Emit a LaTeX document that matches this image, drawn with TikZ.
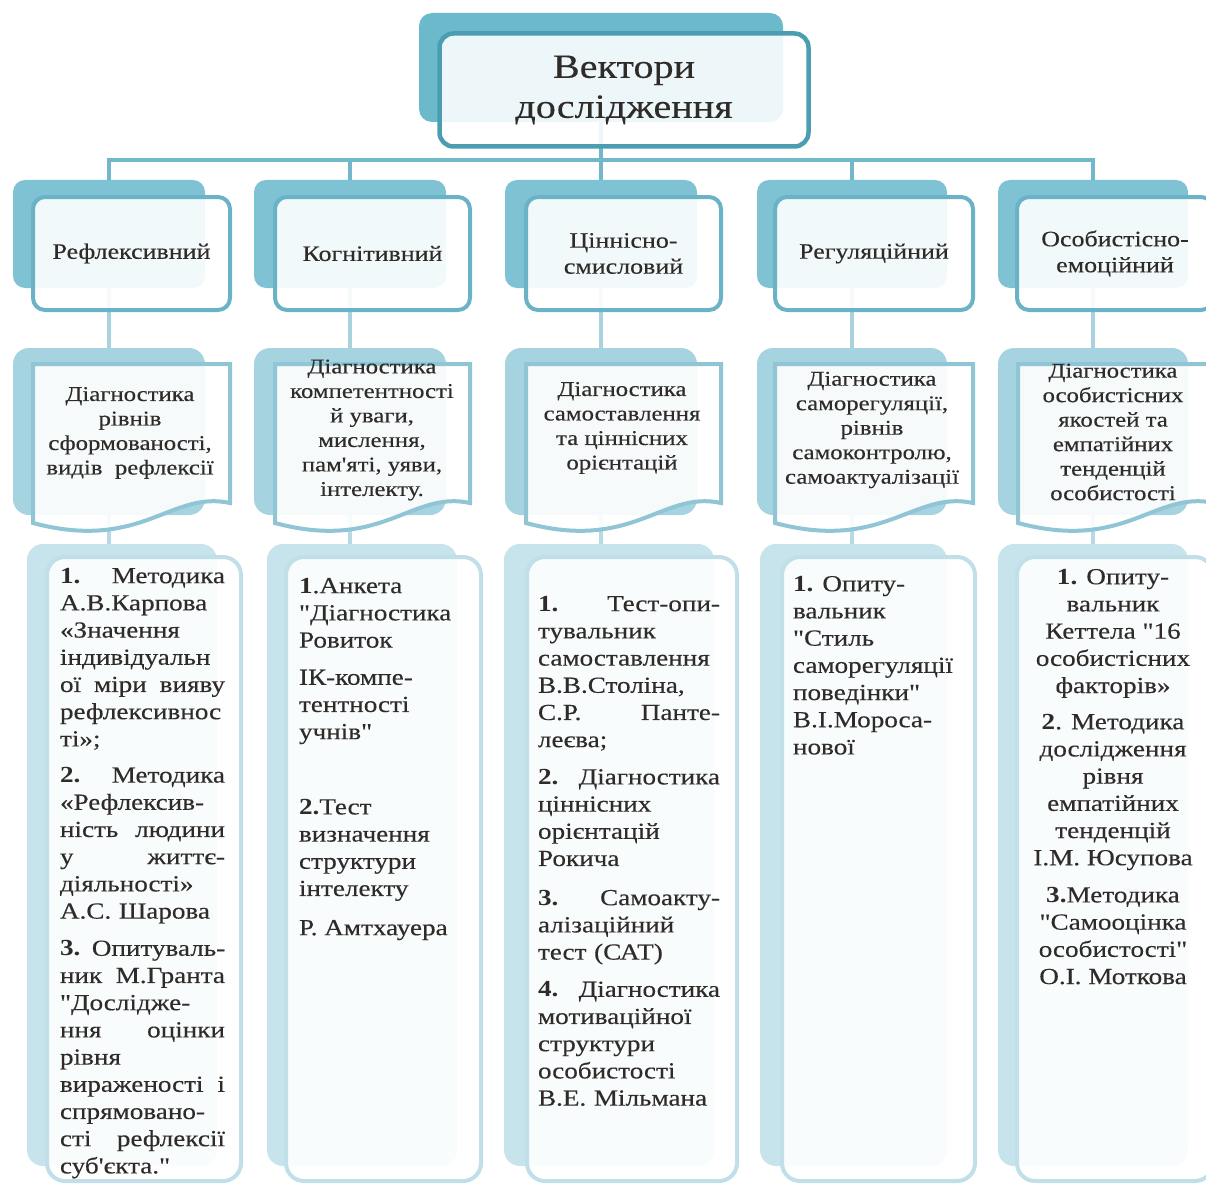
\documentclass[tikz,border=0pt]{standalone}
\usepackage{fontspec}
\setmainfont[FakeStretch=1.18, Ligatures=TeXOff, UprightFeatures={FakeBold=0.3}]{Liberation Serif}
\definecolor{txt}{HTML}{2F2B29}
\definecolor{cTopS}{HTML}{6CB9CC}
\definecolor{cTopB}{HTML}{4B9DB2}
\definecolor{cL2S}{HTML}{7FC2D3}
\definecolor{cL2B}{HTML}{6AB3C7}
\definecolor{cBus}{HTML}{72B7CA}
\definecolor{cL23}{HTML}{A7D2DE}
\definecolor{cL3S}{HTML}{A6D3E0}
\definecolor{cL3B}{HTML}{8FC5D4}
\definecolor{cL34}{HTML}{B6DBE5}
\definecolor{cL4S}{HTML}{C7E4EC}
\definecolor{cL4B}{HTML}{C0DFE8}
\newcommand{\ftitle}{\fontsize{34}{40}\selectfont}
\newcommand{\fsec}{\fontsize{22}{26}\selectfont}
\newcommand{\fdiag}{\fontsize{21}{24.5}\selectfont}
\newcommand{\fmeth}{\fontsize{23}{27.2}\selectfont}
\newcommand{\jl}[1]{\leavevmode\hbox to \linewidth{#1}}
\begin{document}
\begin{tikzpicture}[x=1pt,y=-1pt,
  every node/.style={inner sep=0pt, outer sep=0pt, text=txt},
  topshadow/.style={fill=cTopS, rounded corners=13pt, minimum width=364pt, minimum height=109pt},
  topfront/.style={draw=cTopB, line width=4.5pt, fill=white, fill opacity=0.88, text opacity=1, rounded corners=14pt, minimum width=369pt, minimum height=113pt, font=\ftitle, align=center},
  secshadow/.style={fill=cL2S, rounded corners=12pt, minimum height=108pt},
  secfront/.style={draw=cL2B, line width=4pt, fill=white, fill opacity=0.9, text opacity=1, rounded corners=12pt, minimum height=113pt, font=\fsec, align=center},
  diagshadow/.style={fill=cL3S, rounded corners=16pt, minimum height=167pt},
  diagfront/.style={draw=cL3B, line width=4pt, fill=white, fill opacity=0.9},
  diagtext/.style={font=\fdiag, align=center},
  methshadow/.style={fill=cL4S, rounded corners=16pt, minimum height=622pt},
  methfront/.style={draw=cL4B, line width=4pt, fill=white, fill opacity=0.9, rounded corners=18pt, minimum height=624pt},
  methtext/.style={font=\fmeth, anchor=north west, align=left},
  busline/.style={draw=cBus, line width=4pt},
  midline/.style={draw=cL23, line width=4pt},
  lowline/.style={draw=cL34, line width=4pt}
]
\clip (0,0) rectangle (1206,1185);

% ---------- shadows ----------
\node[topshadow] (topS) at (601,67.5) {};
\node[secshadow, minimum width=192pt] (s21) at (109,234) {};
\node[secshadow, minimum width=192pt] (s22) at (350,234) {};
\node[secshadow, minimum width=192pt] (s23) at (601,234) {};
\node[secshadow, minimum width=190pt] (s24) at (852,234) {};
\node[secshadow, minimum width=190pt] (s25) at (1093,234) {};
\node[diagshadow, minimum width=192pt] (s31) at (109,431.5) {};
\node[diagshadow, minimum width=192pt] (s32) at (350,431.5) {};
\node[diagshadow, minimum width=192pt] (s33) at (601,431.5) {};
\node[diagshadow, minimum width=190pt] (s34) at (852,431.5) {};
\node[diagshadow, minimum width=190pt] (s35) at (1093,431.5) {};
\node[methshadow, minimum width=190pt] (s41) at (122,855) {};
\node[methshadow, minimum width=190pt] (s42) at (362,855) {};
\node[methshadow, minimum width=210pt] (s43) at (609,855) {};
\node[methshadow, minimum width=187pt] (s44) at (853.5,855) {};
\node[methshadow, minimum width=190pt] (s45) at (1093,855) {};

% ---------- connectors ----------
\coordinate (bus) at (601,160);
\draw[busline] (topS.south) -- (bus);
\draw[busline] (bus) -| (s21.north);
\draw[busline] (bus) -| (s22.north);
\draw[busline] (bus) -- (s23.north);
\draw[busline] (bus) -| (s24.north);
\draw[busline] (bus) -| (s25.north);
\foreach \i in {1,...,5}{
  \draw[midline] (s2\i.south) -- (s3\i.north);
  \draw[lowline] (s3\i.south) -- (s3\i.south |- s4\i.north);
}

% ---------- front boxes ----------
\node[topfront] (topF) at (624,90) {Вектори\\дослідження};

\node[secfront, minimum width=197pt] (f21) at (131.5,253.5) {Рефлексивний};
\node[secfront, minimum width=195pt] (f22) at (372.5,253.5) {Когнітивний};
\node[secfront, minimum width=195pt] (f23) at (623.5,253.5) {Ціннісно-\\смисловий};
\node[secfront, minimum width=198pt] (f24) at (874,253.5) {Регуляційний};
\node[secfront, minimum width=196pt] (f25) at (1115,253.5) {Особистісно-\\емоційний};

\foreach \L/\R in {33/230, 275/470, 526/721, 775/973, 1018/1214}{
  \pgfmathsetmacro{\W}{\R-\L}
  \path[diagfront] (\L,364) -- (\R,364) -- (\R,503)
     .. controls ({\R-0.3*\W},490) and ({\L+0.55*\W},552) .. (\L,523) -- cycle;
}

\node[methfront, minimum width=194pt] (f41) at (144,869) {};
\node[methfront, minimum width=195pt] (f42) at (383.5,869) {};
\node[methfront, minimum width=210pt] (f43) at (632,869) {};
\node[methfront, minimum width=193pt] (f44) at (878.5,869) {};
\node[methfront, minimum width=196pt] (f45) at (1115,869) {};

% ---------- diagnostics texts ----------
\node[diagtext] (t31) at (130,433) {Діагностика\\рівнів\\сформованості,\\видів\ \ рефлексії};
\node[diagtext] (t32) at (372,430) {Діагностика\\компетентності\\й уваги,\\мислення,\\пам'яті, уяви,\\інтелекту.};
\node[diagtext] (t33) at (622,428) {Діагностика\\самоставлення\\та ціннісних\\орієнтацій};
\node[diagtext] (t34) at (872,430) {Діагностика\\саморегуляції,\\рівнів\\самоконтролю,\\самоактуалізації};
\node[diagtext] (t35) at (1113,432) {Діагностика\\особистісних\\якостей та\\емпатійних\\тенденцій\\особистості};

% ---------- methods texts ----------
\node[methtext, text width=165pt] (t41) at (60,568) {%
\jl{\textbf{1.}\hfill Методика}\\
А.В.Карпова\\
«Значення\\
індивідуальн\\
\jl{ої\hfill міри\hfill вияву}\\
рефлексивнос\\
ті»;\\[9pt]
\jl{\textbf{2.}\hfill Методика}\\
«Рефлексив-\\
\jl{ність\hfill людини}\\
\jl{у\hfill життє-}\\
діяльності»\\
А.С. Шарова\\[10pt]
\jl{\textbf{3.} Опитуваль-\hfill}\\
\jl{ник\hfill М.Гранта}\\
"Дослідже-\\
\jl{ння\hfill оцінки}\\
рівня\\
\jl{вираженості\hfill і}\\
спрямовано-\\
\jl{сті\hfill рефлексії}\\
суб'єкта."};

\node[methtext] (t42) at (299,578) {%
\textbf{1}.Анкета\\
"Діагностика\\
Ровиток\\[10pt]
ІК-компе-\\
тентності\\
учнів"\\[48pt]
\textbf{2.}Тест\\
визначення\\
структури\\
інтелекту\\[12pt]
Р. Амтхауера};

\node[methtext, text width=182pt] (t43) at (538,596) {%
\jl{\textbf{1.}\hfill Тест-опи-}\\
тувальник\\
самоставлення\\
В.В.Століна,\\
\jl{С.Р.\hfill Панте-}\\
леєва;\\[10pt]
\jl{\textbf{2.}\hfill Діагностика}\\
ціннісних\\
орієнтацій\\
Рокича\\[12pt]
\jl{\textbf{3.}\hfill Самоакту-}\\
алізаційний\\
тест (САТ)\\[10pt]
\jl{\textbf{4.}\hfill Діагностика}\\
мотиваційної\\
структури\\
особистості\\
В.Е. Мільмана};

\node[methtext] (t44) at (793,576) {%
\textbf{1.} Опиту-\\
вальник\\
"Стиль\\
саморегуляції\\
поведінки"\\
В.І.Мороса-\\
нової};

\node[font=\fmeth, anchor=north, align=center] (t45) at (1113,569) {%
\textbf{1.} Опиту-\\
вальник\\
Кеттела "16\\
особистісних\\
факторів»\\[9pt]
\textbf{2}. Методика\\
дослідження\\
рівня\\
емпатійних\\
тенденцій\\
І.М. Юсупова\\[10pt]
\textbf{3.}Методика\\
"Самооцінка\\
особистості"\\
О.І. Моткова};
\end{tikzpicture}
\end{document}
